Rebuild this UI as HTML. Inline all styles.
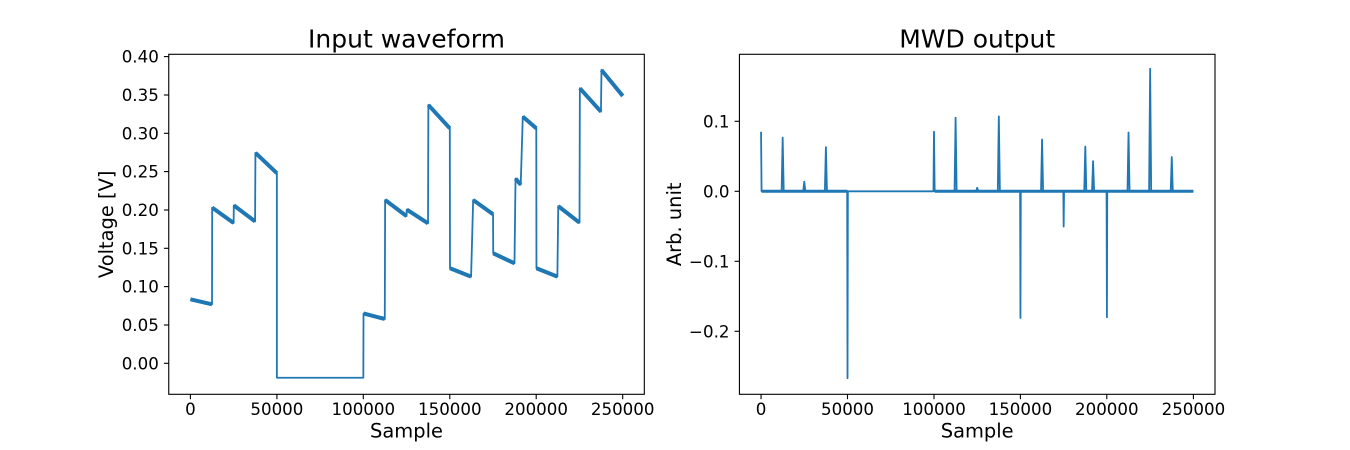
<!DOCTYPE html>
<html>
<head>
<meta charset="utf-8">
<style>
html,body{margin:0;padding:0;background:#fff;}
svg{display:block;}
text{font-family:"DejaVu Sans","Liberation Sans",sans-serif;fill:#000;}
.tk{font-size:16.67px;}
.lb{font-size:19.44px;}
.tt{font-size:25px;}
.ax{fill:none;stroke:#000;stroke-width:1.1;}
.tm{stroke:#000;stroke-width:1.1;}
.ln{fill:none;stroke:#1f77b4;stroke-linejoin:round;vector-effect:non-scaling-stroke;}
</style>
</head>
<body>
<svg width="1350" height="450" viewBox="0 0 1350 450" xmlns="http://www.w3.org/2000/svg">
<rect width="1350" height="450" fill="#fff"/>

<!-- ============ LEFT PLOT ============ -->
<g transform="matrix(1.7294 0 0 -0.7667 190.4 363.3)">
  <path class="ln" stroke-width="1.8" d="M0,83.5 L12.5,77 L12.6,203 L25,183 L25.1,206 L37.4,185 L37.6,274.5 L50,248 L50,-18.8 L100,-18.8 L100.1,65 L112.4,57.8 L112.6,213 L125,192 L125.1,200.5 L137.4,182.6 L137.6,337 L150,306.5 L150.1,124 L162.3,113 L163.5,213 L175,194.4 L175.1,143.5 L187.4,130.4 L188,241 L191,233 L192.2,321.7 L200,306.5 L200.1,124 L212.2,113 L212.7,205 L225,183.4 L225.2,358.7 L237.4,328.2 L237.7,382.6 L250,348.7"/>
  <path class="ln" stroke-width="4" d="M0,83.5 L12.5,77 M12.6,203 L25,183 M25.1,206 L37.4,185 M37.6,274.5 L50,248 M100.1,65 L112.4,57.8 M112.6,213 L125,192 M125.1,200.5 L137.4,182.6 M137.6,337 L150,306.5 M150.1,124 L162.3,113 M163.5,213 L175,194.4 M175.1,143.5 L187.4,130.4 M188,241 L191,233 M192.2,321.7 L200,306.5 M200.1,124 L212.2,113 M212.7,205 L225,183.4 M225.2,358.7 L237.4,328.2 M237.7,382.6 L250,348.7"/>
</g>

<rect class="ax" x="168.75" y="54.3" width="475.57" height="340"/>

<!-- left x ticks -->
<g class="tm">
  <line x1="190.4" y1="394.3" x2="190.4" y2="399.2"/>
  <line x1="276.9" y1="394.3" x2="276.9" y2="399.2"/>
  <line x1="363.3" y1="394.3" x2="363.3" y2="399.2"/>
  <line x1="449.8" y1="394.3" x2="449.8" y2="399.2"/>
  <line x1="536.2" y1="394.3" x2="536.2" y2="399.2"/>
  <line x1="622.7" y1="394.3" x2="622.7" y2="399.2"/>
</g>
<g class="tk" text-anchor="middle">
  <text x="190.4" y="415">0</text>
  <text x="276.9" y="415">50000</text>
  <text x="363.3" y="415">100000</text>
  <text x="449.8" y="415">150000</text>
  <text x="536.2" y="415">200000</text>
  <text x="622.7" y="415">250000</text>
</g>
<!-- left y ticks -->
<g class="tm">
  <line x1="163.9" y1="363.3" x2="168.75" y2="363.3"/>
  <line x1="163.9" y1="325.0" x2="168.75" y2="325.0"/>
  <line x1="163.9" y1="286.6" x2="168.75" y2="286.6"/>
  <line x1="163.9" y1="248.3" x2="168.75" y2="248.3"/>
  <line x1="163.9" y1="210.0" x2="168.75" y2="210.0"/>
  <line x1="163.9" y1="171.6" x2="168.75" y2="171.6"/>
  <line x1="163.9" y1="133.3" x2="168.75" y2="133.3"/>
  <line x1="163.9" y1="95.0" x2="168.75" y2="95.0"/>
  <line x1="163.9" y1="56.6" x2="168.75" y2="56.6"/>
</g>
<g class="tk" text-anchor="end">
  <text x="158.8" y="369.3">0.00</text>
  <text x="158.8" y="331.0">0.05</text>
  <text x="158.8" y="292.6">0.10</text>
  <text x="158.8" y="254.3">0.15</text>
  <text x="158.8" y="216.0">0.20</text>
  <text x="158.8" y="177.6">0.25</text>
  <text x="158.8" y="139.3">0.30</text>
  <text x="158.8" y="101.0">0.35</text>
  <text x="158.8" y="62.6">0.40</text>
</g>
<text class="lb" x="406.5" y="437.5" text-anchor="middle">Sample</text>
<text class="lb" transform="translate(112.8 224.3) rotate(-90)" text-anchor="middle">Voltage [V]</text>
<text class="tt" x="406.5" y="47.3" text-anchor="middle">Input waveform</text>

<!-- ============ RIGHT PLOT ============ -->
<g transform="matrix(1.7293 0 0 -0.7 761.05 191.3)">
  <path class="ln" stroke-width="3" d="M0.3,0 L50,0 M100.4,0 L250,0"/>
  <path class="ln" stroke-width="1.8" d="M0,85 L0.3,0 L11.9,0 L12.5,76.6 L13.1,0 L24.4,0 L25,13.7 L25.6,0 L36.9,0 L37.5,63 L38.1,0 L49.8,0 L50,-267 L50.2,0 L99.7,0 L100,85 L100.4,0 L111.9,0 L112.5,105 L113.1,0 L124.4,0 L125,5 L125.6,0 L136.9,0 L137.5,107 L138.1,0 L149.8,0 L150,-181 L150.2,0 L161.9,0 L162.5,74 L163.1,0 L174.8,0 L175,-50.5 L175.2,0 L186.9,0 L187.5,64 L188.1,0 L191.4,0 L192,43 L192.6,0 L199.8,0 L200,-180 L200.2,0 L211.9,0 L212.5,84 L213.1,0 L224.4,0 L225,175 L225.6,0 L236.9,0 L237.5,49 L238.1,0 L250,0"/>
</g>

<rect class="ax" x="739.43" y="54.3" width="475.57" height="340"/>

<!-- right x ticks -->
<g class="tm">
  <line x1="761.05" y1="394.3" x2="761.05" y2="399.2"/>
  <line x1="847.5" y1="394.3" x2="847.5" y2="399.2"/>
  <line x1="934.0" y1="394.3" x2="934.0" y2="399.2"/>
  <line x1="1020.4" y1="394.3" x2="1020.4" y2="399.2"/>
  <line x1="1106.8" y1="394.3" x2="1106.8" y2="399.2"/>
  <line x1="1193.4" y1="394.3" x2="1193.4" y2="399.2"/>
</g>
<g class="tk" text-anchor="middle">
  <text x="761.05" y="415">0</text>
  <text x="847.5" y="415">50000</text>
  <text x="934.0" y="415">100000</text>
  <text x="1020.4" y="415">150000</text>
  <text x="1106.8" y="415">200000</text>
  <text x="1193.4" y="415">250000</text>
</g>
<!-- right y ticks -->
<g class="tm">
  <line x1="734.6" y1="121.3" x2="739.43" y2="121.3"/>
  <line x1="734.6" y1="191.3" x2="739.43" y2="191.3"/>
  <line x1="734.6" y1="261.3" x2="739.43" y2="261.3"/>
  <line x1="734.6" y1="331.3" x2="739.43" y2="331.3"/>
</g>
<g class="tk" text-anchor="end">
  <text x="729.5" y="127.3">0.1</text>
  <text x="729.5" y="197.3">0.0</text>
  <text x="729.5" y="267.3">−0.1</text>
  <text x="729.5" y="337.3">−0.2</text>
</g>
<text class="lb" x="977.2" y="437.5" text-anchor="middle">Sample</text>
<text class="lb" transform="translate(681 224.3) rotate(-90)" text-anchor="middle">Arb. unit</text>
<text class="tt" x="977.2" y="47.3" text-anchor="middle">MWD output</text>
</svg>
</body>
</html>
